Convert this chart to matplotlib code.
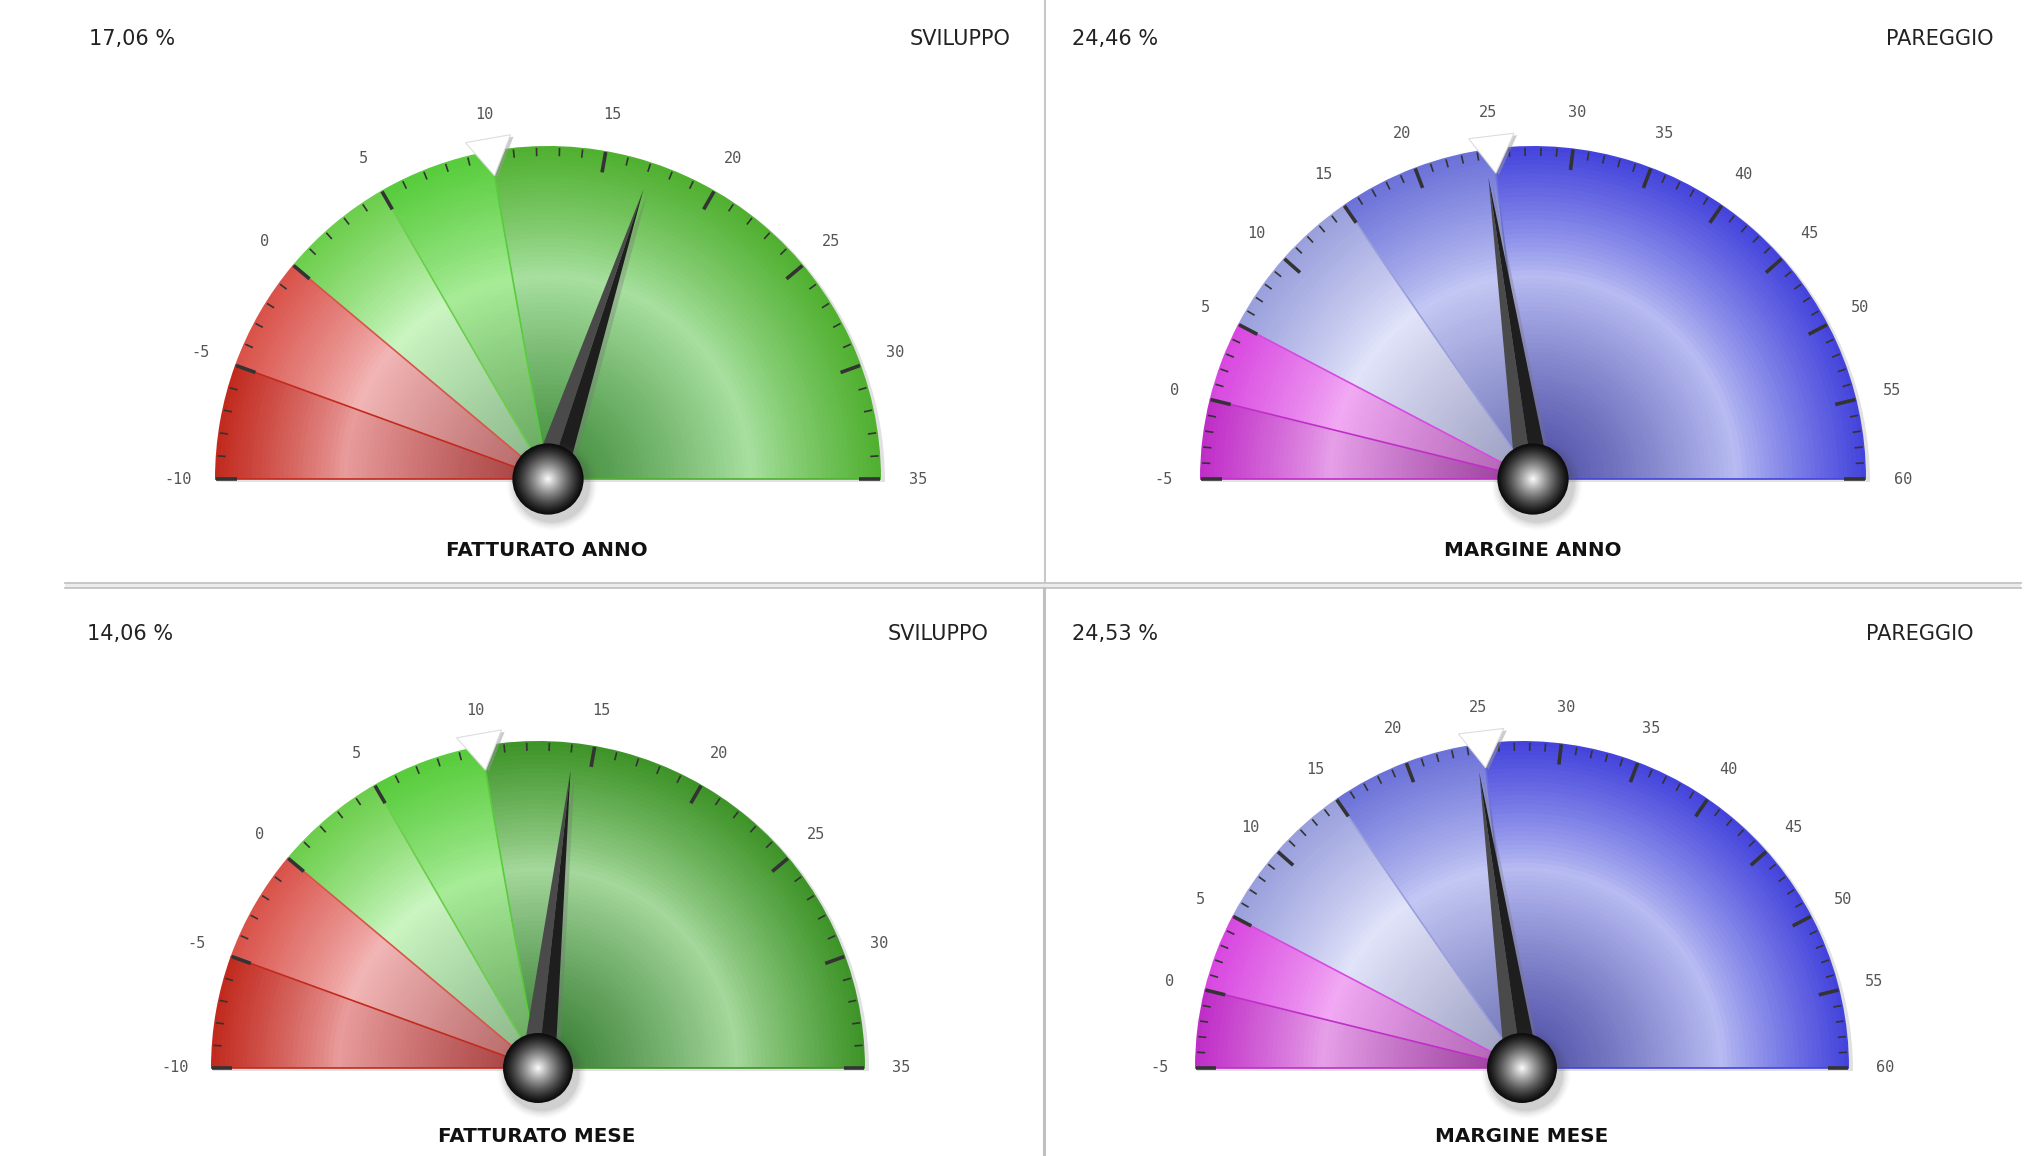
import numpy as np
import matplotlib
matplotlib.use("Agg")
import matplotlib.pyplot as plt
from matplotlib.patches import Wedge, Polygon, Circle
from matplotlib.collections import LineCollection
from matplotlib.colors import to_rgb

W, H = 2042, 1156

# --- data -------------------------------------------------------------
titles = ["FATTURATO ANNO", "MARGINE ANNO", "FATTURATO MESE", "MARGINE MESE"]
values = [17.06, 24.46, 14.06, 24.53]
targets = [10, 25, 10, 25]
statuses = ["SVILUPPO", "PAREGGIO", "SVILUPPO", "PAREGGIO"]
fatturato_edges = [-10, -5, 0, 5, 10, 35]
margine_edges = [-5, 0, 5, 15, 25, 60]
gauge_edges = [fatturato_edges, margine_edges, fatturato_edges, margine_edges]

# band colours as (rim, light ring, dark centre)
fatt_anno_cols = [("#c22a1e", "#e89c9c", "#a63c3c"),
                  ("#d9534a", "#f2b6b6", "#b46464"),
                  ("#6cce4c", "#cbf6c2", "#88b488"),
                  ("#58cc3c", "#a8ec98", "#66a45e"),
                  ("#50b030", "#a8e0a0", "#3f8a3a")]
fatt_mese_cols = fatt_anno_cols[:4] + [("#3e9428", "#a5d89c", "#337a30")]
marg_cols = [("#c02ec8", "#e6a0e8", "#983a9a"),
             ("#d848e0", "#f2aaf4", "#ae60b0"),
             ("#9aa0dc", "#e2e4fa", "#9a9cc0"),
             ("#6c72d8", "#c4c8f4", "#6e72b6"),
             ("#4444dc", "#b8bcf2", "#4c4ca4")]
gauge_cols = [fatt_anno_cols, marg_cols, fatt_mese_cols, marg_cols]

# layout in pixels (y measured from the top)
centers = [(548, 479), (1533, 479), (538, 1068), (1522, 1068)]
radii = [333, 333, 327, 327]
pct_pos = [(89, 39), (1072, 39), (87, 634), (1072, 634)]
status_pos = [(1010, 39), (1994, 39), (988, 634), (1973, 634)]
title_pos = [(547, 550), (1533, 550), (537, 1136), (1522, 1136)]


def Y(y):
    return H - y


def ang(v, lo, hi):
    return 180.0 - (v - lo) / (hi - lo) * 180.0


def shade(cols, t):
    rim, light, dark = (np.array(to_rgb(c)) for c in cols)
    if t < 0.62:
        s = (t / 0.62) ** 1.2
        return dark + (light - dark) * s
    s = ((t - 0.62) / 0.38) ** 0.85
    return light + (rim - light) * s


def draw_gauge(ax, cx, cy, R, edges, cols, value, target):
    lo, hi = edges[0], edges[-1]
    # soft drop shadow
    ax.add_patch(Wedge((cx + 3, cy - 3), R + 1, 0, 180, color="#bdbdbd",
                       alpha=0.45, lw=0, zorder=1))
    # shaded bands
    rs = np.linspace(R, 0.05 * R, 70)
    for (a, b), c in zip(zip(edges[:-1], edges[1:]), cols):
        t1, t2 = ang(b, lo, hi), ang(a, lo, hi)
        for r in rs:
            ax.add_patch(Wedge((cx, cy), r, t1, t2, color=shade(c, r / R),
                               lw=0, zorder=2))
    # band separators and baseline
    segs, scol = [], []
    for e, c in zip(edges[1:-1], cols[:-1]):
        th = np.radians(ang(e, lo, hi))
        segs.append([(cx, cy), (cx + R * np.cos(th), cy + R * np.sin(th))])
        scol.append(c[0])
    segs += [[(cx - R, cy), (cx, cy)], [(cx, cy), (cx + R, cy)]]
    scol += [cols[0][0], cols[-1][0]]
    ax.add_collection(LineCollection(segs, colors=scol, lw=1.2, zorder=3))

    # ticks and labels
    major, minor = [], []
    for v in range(lo, hi + 1):
        th = np.radians(ang(v, lo, hi))
        u = np.array([np.cos(th), np.sin(th)])
        if v % 5 == 0:
            major.append([(cx, cy) + u * 0.935 * R, (cx, cy) + u * 0.997 * R])
            ax.text(cx + u[0] * 1.11 * R, cy + u[1] * 1.11 * R, str(v),
                    ha="center", va="center", fontsize=11,
                    family="DejaVu Sans Mono", color="#555555", zorder=6)
        else:
            minor.append([(cx, cy) + u * 0.97 * R, (cx, cy) + u * 0.995 * R])
    ax.add_collection(LineCollection(major, colors="#333333", lw=2.6, zorder=4))
    ax.add_collection(LineCollection(minor, colors="#333333", lw=1.2, zorder=4))

    # target marker
    th = np.radians(ang(target, lo, hi))
    da = 22.0 / R
    tri = [(cx + 1.04 * R * np.cos(th + da), cy + 1.04 * R * np.sin(th + da)),
           (cx + 1.04 * R * np.cos(th - da), cy + 1.04 * R * np.sin(th - da)),
           (cx + 0.925 * R * np.cos(th), cy + 0.925 * R * np.sin(th))]
    shadow = [(x + 3, y - 2) for x, y in tri]
    ax.add_patch(Polygon(shadow, closed=True, color="#9a9a9a", alpha=0.5,
                         lw=0, zorder=5))
    ax.add_patch(Polygon(tri, closed=True, facecolor="white",
                         edgecolor="#dddddd", lw=0.8, zorder=5))

    # needle
    th = np.radians(ang(value, lo, hi))
    d = np.array([np.cos(th), np.sin(th)])
    n = np.array([-np.sin(th), np.cos(th)])
    c0 = np.array([cx, cy])
    w0, L = 0.052 * R, 0.915 * R
    tip = c0 + d * L
    ax.add_patch(Polygon([c0 + n * w0 + (4, -4), tip + (4, -4),
                          c0 - n * w0 + (4, -4)], closed=True, color="#777777",
                         alpha=0.35, lw=0, zorder=6))
    ax.add_patch(Polygon([c0, c0 + n * w0, tip], closed=True, color="#4a4a4a",
                         lw=0, zorder=7))
    ax.add_patch(Polygon([c0, c0 - n * w0, tip], closed=True, color="#1e1e1e",
                         lw=0, zorder=7))

    # hub
    rh = 0.107 * R
    for k, a in zip(range(6), np.linspace(0.08, 0.02, 6)):
        ax.add_patch(Circle((cx + 4, cy - 6), rh + 2 + k * 1.5, color="#555555",
                            alpha=a, lw=0, zorder=8))
    for r in np.linspace(rh, 0.5, 40):
        t = 1 - r / rh
        g = 0.05 + 0.95 * t ** 1.2
        ax.add_patch(Circle((cx, cy), r, color=(g, g, g), lw=0, zorder=9))


fig = plt.figure(figsize=(W / 100, H / 100), dpi=100)
ax = fig.add_axes([0, 0, 1, 1])
ax.set_xlim(0, W)
ax.set_ylim(0, H)
ax.set_aspect("equal")
ax.axis("off")

# panel separators
ax.fill_between([65, 2021], Y(583), Y(588), color="#ececec", lw=0, zorder=0)
ax.plot([65, 2021], [Y(583), Y(583)], color="#c4c4c4", lw=1.3, zorder=0)
ax.plot([65, 2021], [Y(588), Y(588)], color="#c4c4c4", lw=1.3, zorder=0)
ax.plot([1045, 1045], [Y(0), Y(583)], color="#c8c8c8", lw=1.5, zorder=0)
ax.plot([1044, 1044], [Y(588), Y(1156)], color="#c0c0c0", lw=2.2, zorder=0)

for i in range(4):
    cx, cy = centers[i]
    draw_gauge(ax, cx, Y(cy), radii[i], gauge_edges[i], gauge_cols[i],
               values[i], targets[i])
    ax.text(pct_pos[i][0], Y(pct_pos[i][1]), f"{values[i]:.2f} %".replace(".", ","),
            ha="left", va="center", fontsize=15, color="#222222")
    ax.text(status_pos[i][0], Y(status_pos[i][1]), statuses[i],
            ha="right", va="center", fontsize=15, color="#222222")
    ax.text(title_pos[i][0], Y(title_pos[i][1]), titles[i], ha="center",
            va="center", fontsize=14.3, fontweight="bold", color="#111111")

fig.savefig("out.png", dpi=100, facecolor="white")
